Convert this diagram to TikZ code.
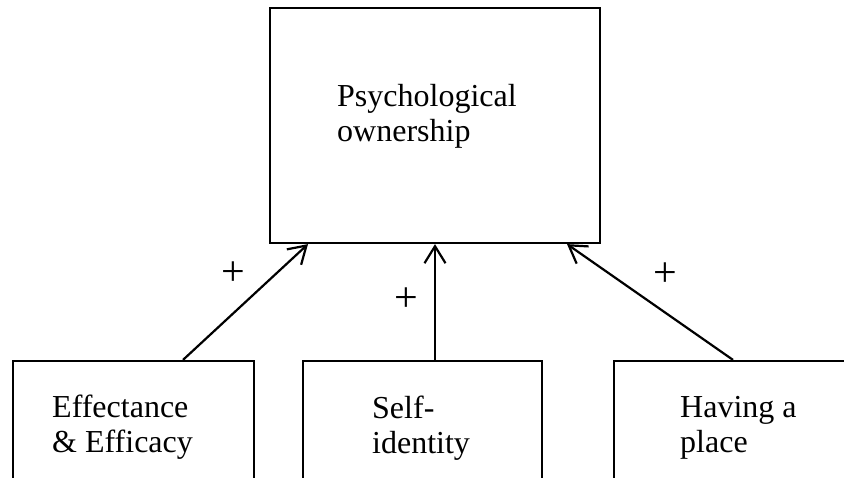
\documentclass[tikz,border=0pt]{standalone}
\usepackage{fontspec}
\setmainfont{Liberation Serif}
\usetikzlibrary{arrows.meta}
\begin{document}
\begin{tikzpicture}[x=1pt,y=-1pt,
  box/.style={draw,line width=2.2pt,rectangle,inner sep=0pt},
  label/.style={anchor=base west,inner sep=0pt,align=left,
    font=\fontsize{32}{35}\selectfont},
  sign/.style={inner sep=0pt,font=\fontsize{42}{44}\selectfont},
  link/.style={line width=2.2pt,-{Straight Barb[length=17pt,width=21pt,line width=2.2pt]}}]
\useasboundingbox (0,0) rectangle (844,477);
\clip (0,0) rectangle (844,477);
% outcome box
\node[box,minimum width=330pt,minimum height=235pt] (po) at (435,125.5) {};
% antecedent boxes, open at the bottom edge
\node[box,minimum width=241pt,minimum height=160pt] (ee) at (133.5,441) {};
\node[box,minimum width=239pt,minimum height=160pt] (si) at (422.5,441) {};
\node[box,minimum width=256pt,minimum height=160pt] (hp) at (742,441) {};
% labels (anchored on the baseline of their last line)
\node[label] (tpo) at (337,141) {Psychological\\ownership};
\node[label] (tee) at (52,452) {Effectance\\\& Efficacy};
\node[label] (tsi) at (372,453) {Self-\\identity};
\node[label] (thp) at (680,452) {Having a\\place};
% connectors
\draw[link] ([xshift=49.5pt]ee.north) -- ([xshift=-127pt]po.south);
\draw[link] ([xshift=12.5pt]si.north) -- (po.south);
\draw[link] ([xshift=-9pt]hp.north) -- ([xshift=132pt]po.south);
% signs
\node[sign] (p1) at (233,274) {+};
\node[sign] (p2) at (406,300) {+};
\node[sign] (p3) at (665,275) {+};
\end{tikzpicture}
\end{document}
